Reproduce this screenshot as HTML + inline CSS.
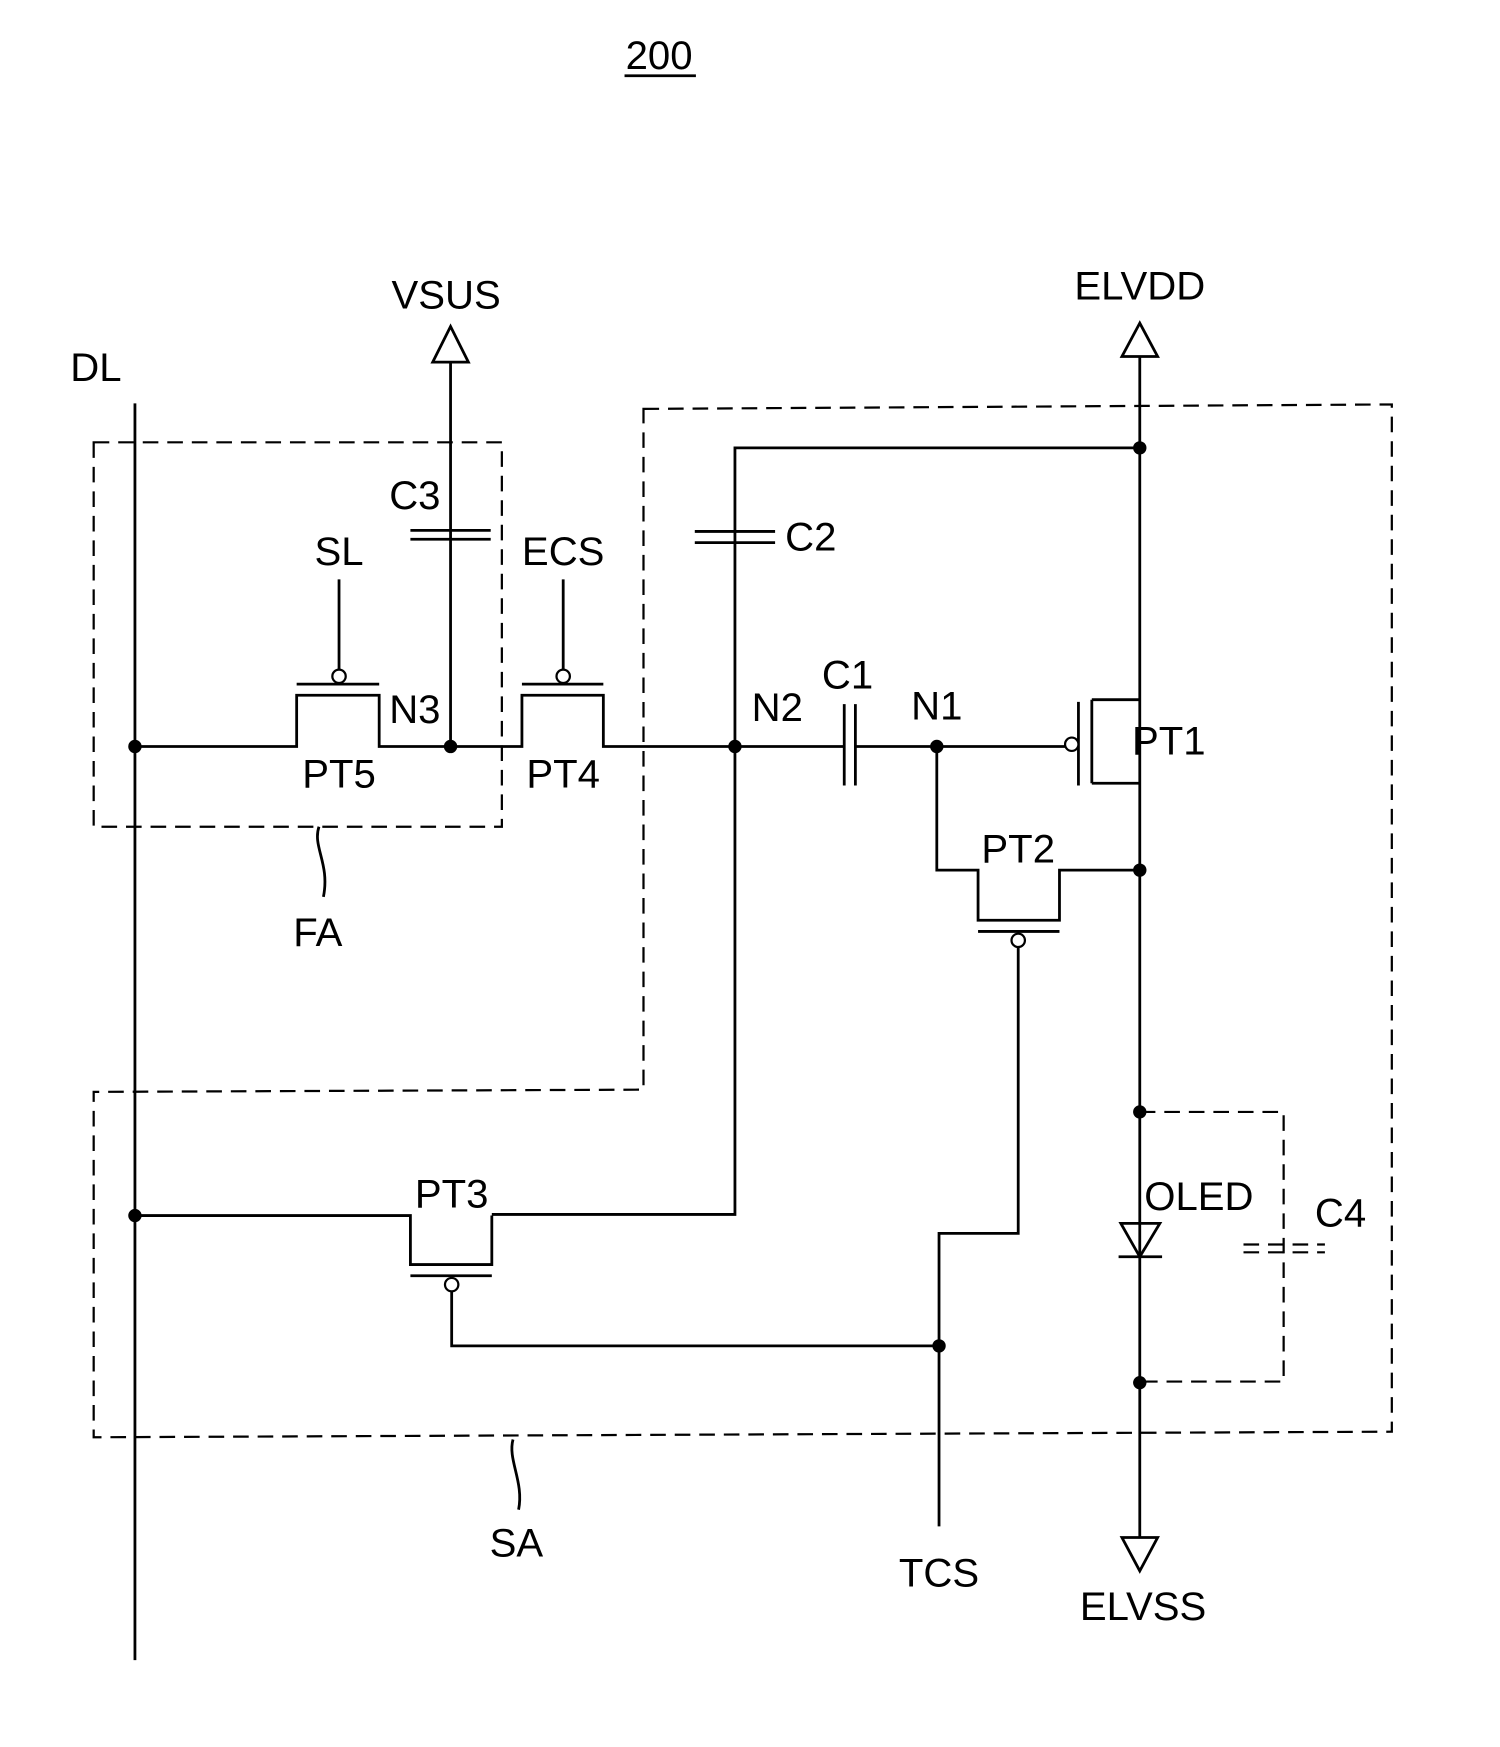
<!DOCTYPE html>
<html><head><style>html,body{margin:0;padding:0;background:#fff}svg{display:block}</style></head>
<body>
<svg width="1500" height="1747" viewBox="0 0 1345 1568" preserveAspectRatio="none" xmlns="http://www.w3.org/2000/svg">
<g font-family="Liberation Sans, sans-serif" font-size="36" text-anchor="middle" fill="#000">
<text x="591" y="62">200</text>
<text x="86" y="342">DL</text>
<text x="400" y="277">VSUS</text>
<text x="1022" y="269">ELVDD</text>
<text x="372" y="457">C3</text>
<text x="304" y="507">SL</text>
<text x="505" y="507">ECS</text>
<text x="727" y="494">C2</text>
<text x="372" y="649">N3</text>
<text x="697" y="647">N2</text>
<text x="760" y="618">C1</text>
<text x="840" y="646">N1</text>
<text x="1048" y="677">PT1</text>
<text x="304" y="707">PT5</text>
<text x="505" y="707">PT4</text>
<text x="913" y="774">PT2</text>
<text x="285" y="849">FA</text>
<text x="405" y="1084">PT3</text>
<text x="1075" y="1086">OLED</text>
<text x="1202" y="1101">C4</text>
<text x="463" y="1397">SA</text>
<text x="842" y="1424">TCS</text>
<text x="1025" y="1454">ELVSS</text>
</g>
<g stroke="#000" stroke-width="2.5" fill="none">
<line x1="560" y1="68" x2="624" y2="68"/>
<line x1="121" y1="362" x2="121" y2="1490"/>
<polyline points="121,670 266,670 266,624 340,624 340,670 468,670 468,624 541,624 541,670 757,670"/>
<line x1="757" y1="632" x2="757" y2="705"/>
<line x1="767" y1="632" x2="767" y2="705"/>
<line x1="767" y1="670" x2="956" y2="670"/>
<line x1="967" y1="630" x2="967" y2="705"/>
<line x1="979" y1="628" x2="979" y2="703"/>
<polyline points="979,628 1022,628"/>
<polyline points="979,703 1022,703"/>
<line x1="266" y1="614" x2="340" y2="614"/>
<line x1="304" y1="601" x2="304" y2="520"/>
<line x1="468" y1="614" x2="541" y2="614"/>
<line x1="505" y1="601" x2="505" y2="520"/>
<line x1="404" y1="670" x2="404" y2="325"/>
<polygon points="404,293 388,325 420,325"/>
<line x1="368" y1="476" x2="440" y2="476"/>
<line x1="368" y1="484" x2="440" y2="484"/>
<polyline points="1022,402 659,402 659,1090 441,1090"/>
<line x1="623" y1="477" x2="695" y2="477"/>
<line x1="623" y1="487" x2="695" y2="487"/>
<polygon points="1022,290 1006,320 1038,320"/>
<line x1="1022" y1="320" x2="1022" y2="1380"/>
<polygon points="1022,1410 1006,1380 1038,1380"/>
<polyline points="840,670 840,781 877,781 877,826 950,826 950,781 1022,781"/>
<line x1="877" y1="836" x2="950" y2="836"/>
<polyline points="913,850 913,1107 842,1107 842,1370"/>
<polyline points="121,1091 368,1091 368,1135 441,1135 441,1091"/>
<line x1="368" y1="1145" x2="441" y2="1145"/>
<polyline points="405,1159 405,1208 842,1208"/>
<polygon points="1005,1098 1040,1098 1022,1128"/>
<line x1="1003" y1="1128" x2="1042" y2="1128"/>
<path d="M286,742 C280,760 296,775 290,805"/>
<path d="M460,1292 C455,1310 470,1330 465,1355"/>
</g>
<g fill="#fff" stroke="#000" stroke-width="2">
<circle cx="304" cy="607" r="6"/>
<circle cx="505" cy="607" r="6"/>
<circle cx="961" cy="668" r="6"/>
<circle cx="913" cy="844" r="6"/>
<circle cx="405" cy="1153" r="6"/>
</g>
<g fill="#000">
<circle cx="121" cy="670" r="6"/>
<circle cx="404" cy="670" r="6"/>
<circle cx="659" cy="670" r="6"/>
<circle cx="840" cy="670" r="6"/>
<circle cx="1022" cy="402" r="6"/>
<circle cx="1022" cy="781" r="6"/>
<circle cx="1022" cy="998" r="6"/>
<circle cx="1022" cy="1241" r="6"/>
<circle cx="121" cy="1091" r="6"/>
<circle cx="842" cy="1208" r="6"/>
</g>
<g stroke="#000" stroke-width="2" fill="none" stroke-dasharray="14,8">
<rect x="84" y="397" width="366" height="345"/>
<polygon points="577,367 1248,363 1248,1285 84,1290 84,980 577,978"/>
<polyline points="1022,998 1151,998 1151,1240 1022,1240"/>
<line x1="1115" y1="1117" x2="1188" y2="1117"/>
<line x1="1115" y1="1124" x2="1188" y2="1124"/>
</g>
</svg>
</body></html>
